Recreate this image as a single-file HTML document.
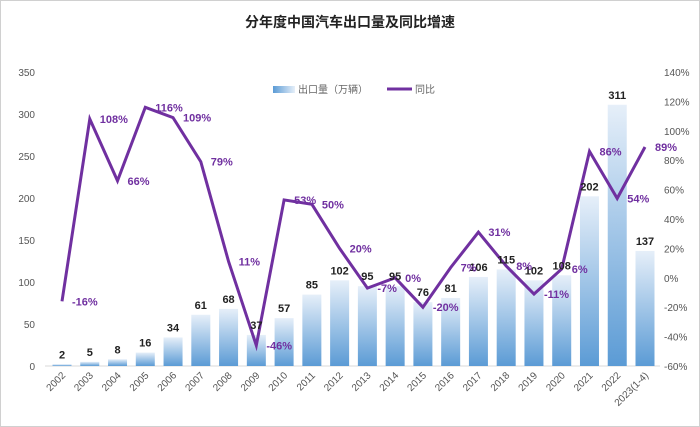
<!DOCTYPE html>
<html><head><meta charset="utf-8"><style>
body{margin:0;background:#fff;}
svg{display:block;font-family:"Liberation Sans","Noto Sans CJK SC",sans-serif;}
</style></head><body>
<svg id="c" width="700" height="427">
<defs><linearGradient id="g" x1="0" y1="0" x2="0" y2="1"><stop offset="0" stop-color="#e6eff9"/><stop offset="1" stop-color="#5b9bd5"/></linearGradient>
<linearGradient id="gl" x1="0" y1="0" x2="1" y2="0"><stop offset="0" stop-color="#5b9bd5"/><stop offset="1" stop-color="#e6eff9"/></linearGradient></defs>
<rect x="0.5" y="0.5" width="699" height="426" fill="#fff" stroke="#d0d0d0"/>
<text x="350" y="27" text-anchor="middle" font-size="14" font-weight="bold" fill="#222">分年度中国汽车出口量及同比增速</text>
<g>
<rect x="273" y="86" width="22" height="7" fill="url(#gl)"/>
<text x="298" y="93" font-size="10" fill="#666">出口量（万辆）</text>
<line x1="387" y1="89" x2="412" y2="89" stroke="#7030a0" stroke-width="3"/>
<text x="415" y="93" font-size="10" fill="#666">同比</text>
</g>
<g id="axes"></g><g id="bars"></g><g id="line"></g><g id="labels"></g>
</svg>
<script>
const categories=["2002","2003","2004","2005","2006","2007","2008","2009","2010","2011","2012","2013","2014","2015","2016","2017","2018","2019","2020","2021","2022","2023(1-4)"];
const volumes=[2,5,8,16,34,61,68,37,57,85,102,95,95,76,81,106,115,102,108,202,311,137];
const growth=[-16,108,66,116,109,79,11,-46,53,50,20,-7,0,-20,7,31,8,-11,6,86,54,89];
const leftTicks=[0,50,100,150,200,250,300,350];
const rightTicks=[-60,-40,-20,0,20,40,60,80,100,120,140];
const NS="http://www.w3.org/2000/svg";
const y0=366,y1=72,x0=62,step=(645-62)/21;
const xs=i=>x0+i*step;
const yL=v=>y0-(v/350)*(y0-y1);
const yR=v=>y0-((v+60)/200)*(y0-y1);
function mk(t,a,p,txt){const e=document.createElementNS(NS,t);for(const k in a)e.setAttribute(k,a[k]);if(txt!==undefined)e.textContent=txt;p.appendChild(e);return e;}
const ax=document.getElementById('axes'),bg=document.getElementById('bars'),lg=document.getElementById('line'),lb=document.getElementById('labels');
leftTicks.forEach(v=>{const t=mk('text',{x:35,y:yL(v)+4,'text-anchor':'end','font-size':10,fill:'#555'},ax,v);

});
rightTicks.forEach(v=>{const t=mk('text',{x:664,y:yR(v)+4,'font-size':10,fill:'#555'},ax,v+'%');

});
const base=mk('line',{x1:45,y1:y0,x2:660,y2:y0,stroke:'#d9d9d9'},ax);


categories.forEach((c,i)=>{const x=xs(i);const t=mk('text',{x:x+4,y:y0+10,'text-anchor':'end','font-size':10,fill:'#555',transform:`rotate(-45 ${x+4} ${y0+10})`},ax,c);


const h=y0-yL(volumes[i]);
const r=mk('rect',{x:x-9.5,y:yL(volumes[i]),width:19,height:h,fill:'url(#g)'},bg);


const bl=mk('text',{x:x,y:yL(volumes[i])-6,'text-anchor':'middle','font-size':11,'font-weight':'bold',fill:'#222'},lb,volumes[i]);

});
const pts=growth.map((v,i)=>xs(i).toFixed(1)+','+yR(v).toFixed(1)).join(' ');
const pl=mk('polyline',{points:pts,fill:'none',stroke:'#7030a0','stroke-width':3,'stroke-linejoin':'miter'},lg);


growth.forEach((v,i)=>{const t=mk('text',{x:xs(i)+10,y:yR(v)+4,'font-size':11,'font-weight':'bold',fill:'#7030a0'},lb,v+'%');

});
</script>
</body></html>
